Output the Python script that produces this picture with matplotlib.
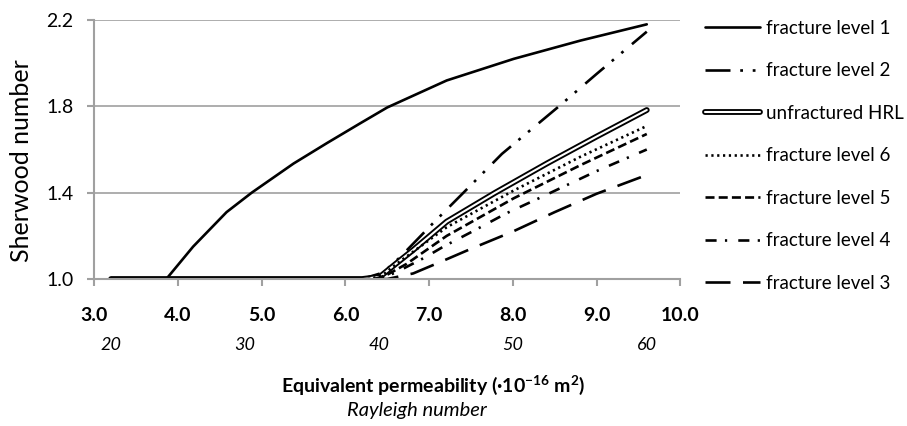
import matplotlib
matplotlib.use("Agg")
import matplotlib.pyplot as plt
import matplotlib.patheffects as pe

plt.rcParams['font.family'] = ['Lato', 'DejaVu Sans']
plt.rcParams['mathtext.fontset'] = 'custom'
plt.rcParams['mathtext.rm'] = 'Lato'
plt.rcParams['mathtext.bf'] = 'Lato:bold'
plt.rcParams['mathtext.default'] = 'bf'
plt.rcParams['lines.scale_dashes'] = False

# equivalent permeability (1e-16 m2) -> Sherwood number
perm_level1 = [3.2, 3.5, 3.86, 4.18, 4.58, 4.88, 5.38, 5.78, 6.17, 6.5, 7.21, 8.01, 8.81, 9.6]
sh_level1 = [1.0, 1.0, 1.0, 1.15, 1.31, 1.40, 1.535, 1.63, 1.72, 1.795, 1.92, 2.02, 2.105, 2.18]

perm_level2 = [3.2, 5.0, 6.2, 6.45, 6.65, 6.85, 7.05, 7.41, 7.87, 8.55, 9.0, 9.6]
sh_level2 = [1.0, 1.0, 1.0, 1.03, 1.10, 1.18, 1.26, 1.40, 1.58, 1.80, 1.95, 2.146]

perm_hrl = [3.2, 5.0, 6.2, 6.41, 6.6, 6.81, 7.21, 7.79, 8.41, 9.0, 9.6]
sh_hrl = [1.0, 1.0, 1.0, 1.01, 1.07, 1.135, 1.266, 1.40, 1.536, 1.66, 1.783]

perm_level6 = [3.2, 5.0, 6.3, 6.45, 6.61, 7.21, 8.01, 8.81, 9.6]
sh_level6 = [1.0, 1.0, 1.0, 1.02, 1.07, 1.24, 1.41, 1.567, 1.709]

perm_level5 = [3.2, 5.0, 6.35, 6.5, 6.73, 7.21, 8.01, 8.81, 9.6]
sh_level5 = [1.0, 1.0, 1.0, 1.02, 1.07, 1.20, 1.374, 1.528, 1.672]

perm_level4 = [3.2, 5.0, 6.4, 6.6, 6.95, 7.17, 7.55, 7.92, 8.31, 9.0, 9.6]
sh_level4 = [1.0, 1.0, 1.0, 1.03, 1.10, 1.15, 1.227, 1.304, 1.374, 1.50, 1.60]

perm_level3 = [3.2, 5.0, 6.5, 6.81, 7.11, 7.5, 8.0, 8.5, 9.0, 9.6]
sh_level3 = [1.0, 1.0, 1.0, 1.026, 1.075, 1.14, 1.22, 1.31, 1.395, 1.482]

perm_ticks = [3.0, 4.0, 5.0, 6.0, 7.0, 8.0, 9.0, 10.0]
sh_ticks = [1.0, 1.4, 1.8, 2.2]
rayleigh_ticks = [20, 30, 40, 50, 60]
rayleigh_per_perm = 6.25

fig = plt.figure(figsize=(9.07, 4.26), dpi=100)
ax = fig.add_axes([0.104, 0.345, 0.646, 0.608])

lw = 1.9
line1, = ax.plot(perm_level1, sh_level1, color='black', lw=lw, solid_capstyle='round',
                 label="fracture level 1")
line2, = ax.plot(perm_level2, sh_level2, color='black', lw=lw,
                 dashes=(18, 7, 2, 7, 2, 8), label="fracture level 2")
# double line: white core with a black outline
hrl, = ax.plot(perm_hrl, sh_hrl, color='white', lw=1.5, solid_capstyle='round',
               path_effects=[pe.Stroke(linewidth=4.2, foreground='black'), pe.Normal()],
               label="unfractured HRL")
line6, = ax.plot(perm_level6, sh_level6, color='black', lw=lw,
                 dashes=(1.6, 2.6), label="fracture level 6")
line5, = ax.plot(perm_level5, sh_level5, color='black', lw=lw,
                 dashes=(6.5, 3), label="fracture level 5")
line4, = ax.plot(perm_level4, sh_level4, color='black', lw=lw,
                 dashes=(8, 6, 1.6, 8), label="fracture level 4")
line3, = ax.plot(perm_level3, sh_level3, color='black', lw=lw,
                 dashes=(18, 9), label="fracture level 3")

ax.set_xlim(3.0, 10.0)
ax.set_ylim(1.0, 2.2)
ax.set_xticks(perm_ticks)
ax.set_xticklabels([f"{t:.1f}" for t in perm_ticks], fontweight='bold', fontsize=14)
ax.set_yticks(sh_ticks)
ax.set_yticklabels([f"{t:.1f}" for t in sh_ticks], fontsize=14)
ax.yaxis.grid(True, color='#a0a0a0', lw=1.2)
ax.set_axisbelow(True)
for s in ['top', 'right']:
    ax.spines[s].set_visible(False)
for s in ['left', 'bottom']:
    ax.spines[s].set_color('#a0a0a0')
    ax.spines[s].set_linewidth(1.5)
ax.tick_params(axis='x', direction='out', length=5, width=1.5, color='#a0a0a0', pad=15)
ax.tick_params(axis='y', direction='out', length=5, width=1.5, color='#a0a0a0', pad=10)

sec = ax.secondary_xaxis(0, functions=(lambda k: k * rayleigh_per_perm,
                                       lambda r: r / rayleigh_per_perm))
sec.set_xticks(rayleigh_ticks)
sec.set_xticklabels([str(r) for r in rayleigh_ticks], fontstyle='italic', fontsize=13)
sec.tick_params(length=0, pad=42)
sec.spines['bottom'].set_visible(False)

fig.text(0.024, 0.624, "Sherwood number", rotation=90, ha='center', va='center', fontsize=18)
fig.text(0.477, 0.080, r"Equivalent permeability (·10$^{-16}$ m$^{2}$)", ha='center',
         va='baseline', fontsize=14, fontweight='bold')
fig.text(0.460, 0.024, "Rayleigh number", ha='center', va='baseline', fontsize=14.5,
         fontstyle='italic')

handles = [line1, line2, hrl, line6, line5, line4, line3]
fig.legend(handles=handles, loc='upper left', bbox_to_anchor=(0.769, 0.971),
           frameon=False, fontsize=13.5, handlelength=2.93, handletextpad=0.32,
           labelspacing=1.36, borderaxespad=0)

fig.savefig("out.png", dpi=100)
